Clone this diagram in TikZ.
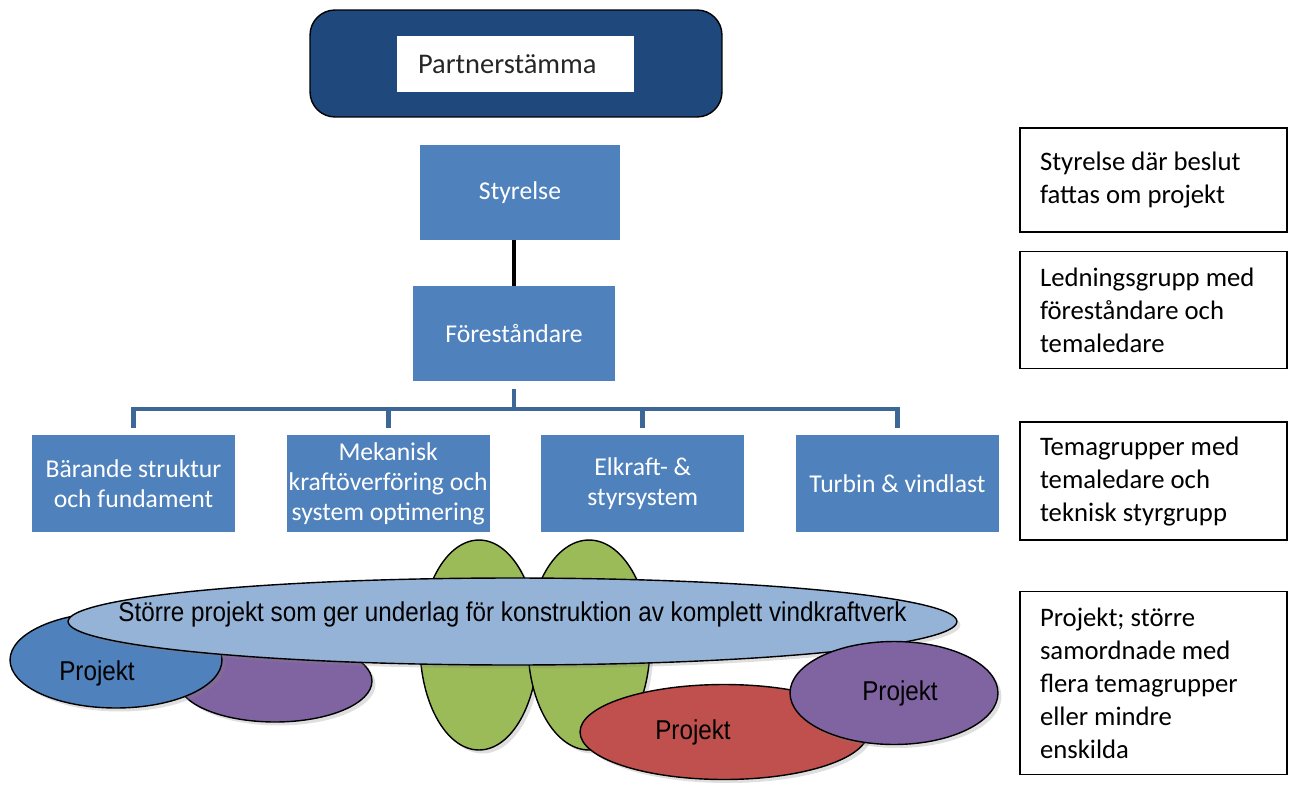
\documentclass[tikz,border=0pt]{standalone}
\usepackage{fontspec}
\setmainfont{Carlito}
\newfontfamily\arialfont{Liberation Sans}
\usepackage{graphicx}
\usepackage{tikz}
\usetikzlibrary{shapes.geometric}
\usetikzlibrary{shadows}
\usetikzlibrary{positioning}

\definecolor{partnerblue}{RGB}{31,73,125}
\definecolor{boxblue}{RGB}{79,129,189}
\definecolor{lineblue}{RGB}{60,103,150}
\definecolor{lightblue}{RGB}{149,179,215}
\definecolor{projgreen}{RGB}{155,187,89}
\definecolor{projpurple}{RGB}{128,100,162}
\definecolor{projred}{RGB}{192,80,77}

\tikzstyle{orgbox} = [rectangle, minimum width=4.06cm, minimum height=1.94cm, text centered, align=flush center, fill=boxblue, text=white, inner sep=0pt, font=\fontsize{14.6}{17}\selectfont]
\tikzstyle{infobox} = [rectangle, minimum width=5.34cm, text width=4.54cm, inner xsep=0.4cm, align=flush left, draw=black, line width=0.9pt, font=\fontsize{15.2}{18.8}\selectfont]
\tikzstyle{proj} = [ellipse, draw=black, line width=0.8pt, inner sep=0pt, drop shadow={opacity=0.25, shadow xshift=0.07cm, shadow yshift=-0.07cm}]
\tikzstyle{projtext} = [font=\arialfont\fontsize{15.5}{18}\selectfont]
\tikzstyle{tree} = [line width=2.8pt, draw=lineblue]

\newcommand{\narrow}[1]{\scalebox{0.89}[1]{#1}}

\begin{document}
\begin{tikzpicture}[x=0.02cm, y=-0.02cm, node distance=1.02cm]
\useasboundingbox (0,0) rectangle (1290,787);

% top of the organisation
\node (partner) [rectangle, rounded corners=0.5cm, draw=black, line width=0.8pt, fill=partnerblue, minimum width=8.24cm, minimum height=2.14cm] at (516,63.5) {};
\node (partnertext) [rectangle, fill=white, minimum width=4.74cm, minimum height=1.12cm, text width=3.9cm, inner xsep=0.42cm, align=flush left, text=black!85, font=\fontsize{16.2}{19}\selectfont] at (515.5,64) {Partnerstämma};

\node (styrelse) [orgbox, minimum width=4cm, minimum height=1.9cm] at (520,192.5) {Styrelse};
\node (forest) [orgbox, minimum width=4.04cm, minimum height=1.9cm] at (514,333.5) {Föreståndare};

% temagrupper
\node (t1) [orgbox] at (133.5,483.5) {Bärande struktur\\och fundament};
\node (t2) [orgbox, right= of t1] {Mekanisk\\kraftöverföring och\\system optimering};
\node (t3) [orgbox, right= of t2] {Elkraft- \&\\styrsystem};
\node (t4) [orgbox, right= of t3] {Turbin \& vindlast};

\draw [line width=2.8pt] (forest.north) -- (forest.north |- styrelse.south);
\coordinate (bus) at (514,409);
\draw [tree, shorten <=0.16cm] (forest.south) -- (bus);
\foreach \t in {t1,t2,t3,t4}
  \draw [tree, shorten >=0.14cm] (bus) -| (\t.north);

% projekt
\node (green1) [proj, fill=projgreen, minimum width=2.36cm, minimum height=4.2cm] at (479,645) {};
\node (green2) [proj, fill=projgreen, minimum width=2.44cm, minimum height=4.2cm] at (589,645) {};
\node (purpleL) [proj, fill=projpurple, minimum width=3.88cm, minimum height=1.64cm] at (275,681) {};
\node (blueL) [proj, fill=boxblue, minimum width=4.24cm, minimum height=1.92cm, label={[projtext, xshift=-0.38cm, yshift=-0.26cm]center:\narrow{Projekt}}] at (116,660) {};
\node (big) [proj, fill=lightblue, minimum width=17.78cm, minimum height=1.74cm, label={[projtext, yshift=0.14cm]center:\narrow{Större projekt som ger underlag för konstruktion av komplett vindkraftverk}}] at (512.5,621.5) {};
\node (red) [proj, fill=projred, minimum width=5.76cm, minimum height=1.9cm, label={[projtext, xshift=-0.62cm]center:\narrow{Projekt}}] at (724,732) {};
\node (purpleR) [proj, fill=projpurple, minimum width=4.16cm, minimum height=2.06cm, label={[projtext, xshift=0.12cm]center:\narrow{Projekt}}] at (894,693) {};

% forklaringar
\node (r1) [infobox, minimum height=2.08cm] at (1153.5,180) {Styrelse där beslut\\fattas om projekt};
\node (r2) [infobox, minimum height=2.34cm, below=0.36cm of r1] {Ledningsgrupp med\\föreståndare och\\temaledare};
\node (r3) [infobox, minimum height=2.36cm, below=1.04cm of r2] {Temagrupper med\\temaledare och\\teknisk styrgrupp};
\node (r4) [infobox, minimum height=3.66cm, below=1.0cm of r3] {Projekt; större\\samordnade med\\flera temagrupper\\eller mindre\\enskilda};

\end{tikzpicture}
\end{document}
